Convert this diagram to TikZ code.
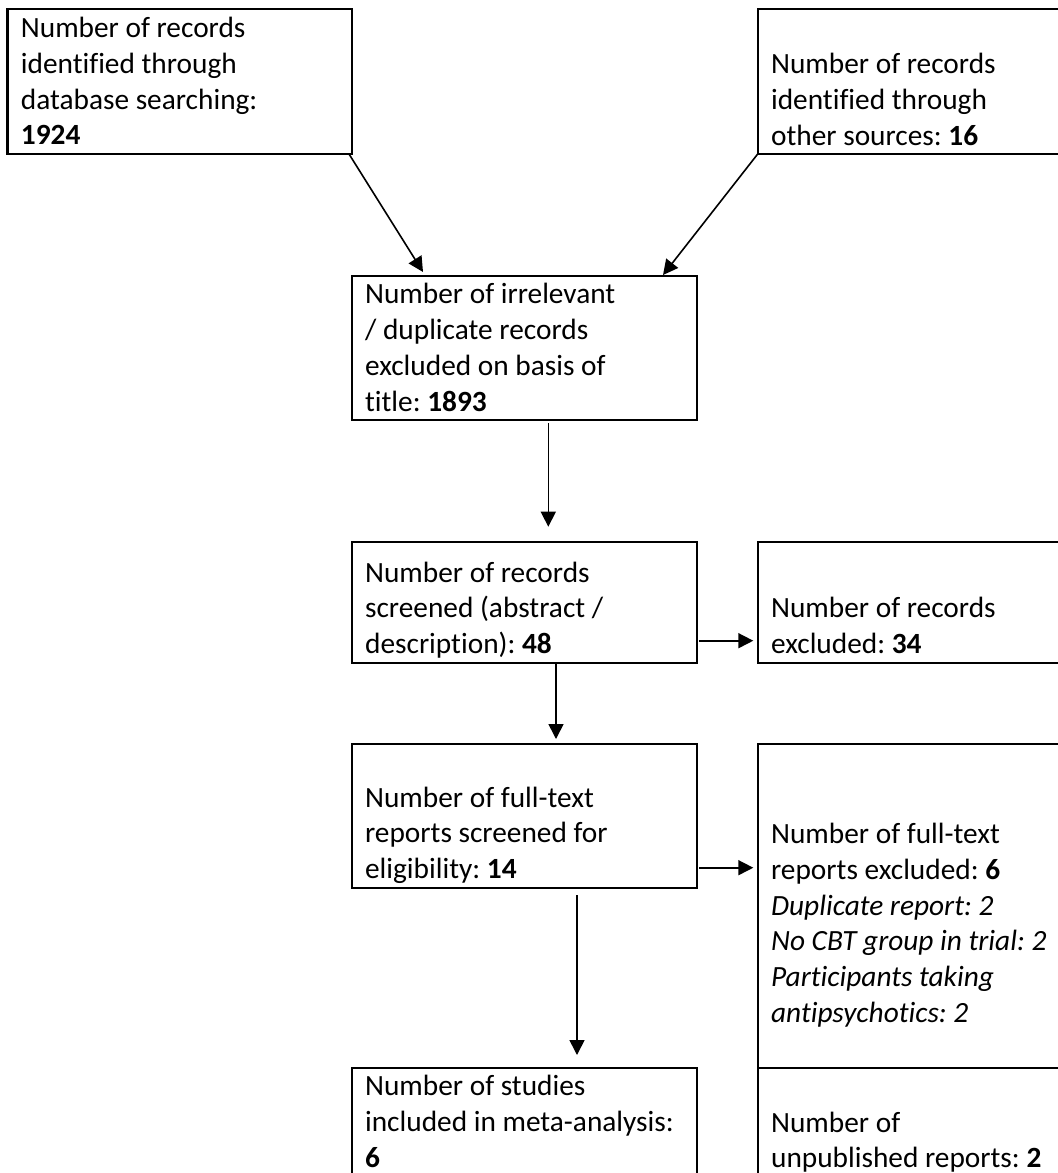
\documentclass[tikz,border=0pt]{standalone}
\usepackage{fontspec}
\setmainfont{Carlito}[Ligatures={NoCommon}]
\frenchspacing
\usetikzlibrary{arrows.meta,calc,fit}
\tikzset{
  box/.style={draw, line width=1.1pt, inner sep=0pt, outer sep=0pt},
  txt/.style={anchor=north west, inner sep=0pt, align=left, font=\fontsize{14.67pt}{17.9pt}\selectfont},
  arr/.style={line width=0.8pt, -{Triangle[length=7.5pt,width=7.5pt]}}
}
\begin{document}
\begin{tikzpicture}[x=0.5pt,y=-0.5pt]
\useasboundingbox (0,0) rectangle (1058,1173);
\clip (0,0) rectangle (1058,1173);

% Drawing box records from databases
\node[box, fit={(7.5,9) (352,154)}] (b1) {};
\node[txt] (t1) at (20.5,12) {\strut Number of records\\identified through\\database searching:\\\textbf{1924}};

% Drawing box records from other sources
\node[box, fit={(757.7,9) (1080,154)}] (b2) {};
\node[txt] (t2) at (770.7,48) {\strut Number of records\\identified through\\other sources: \textbf{16}};

% Drawing box excluded on title
\node[box, fit={(351.7,275.7) (697.3,420)}] (b3) {};
\node[txt] (t3) at (364.7,278.3) {\strut Number of irrelevant\\/ duplicate records\\excluded on basis of\\title: \textbf{1893}};

% Drawing box screened
\node[box, fit={(351.7,542) (697.3,663)}] (b4) {};
\node[txt] (t4) at (364.7,556.7) {\strut Number of records\\screened (abstract /\\description): \textbf{48}};

% Drawing box excluded records
\node[box, fit={(757.7,542) (1080,663)}] (b5) {};
\node[txt] (t5) at (770.7,592) {\strut Number of records\\excluded: \textbf{34}};

% Drawing box full-text screened
\node[box, fit={(351.7,743.7) (697.3,888)}] (b6) {};
\node[txt] (t6) at (364.7,781.7) {\strut Number of full-text\\reports screened for\\eligibility: \textbf{14}};

% Drawing box full-text excluded
\node[box, fit={(757.7,743.7) (1080,1068)}] (b7) {};
\node[txt] (t7) at (770.7,818) {\strut Number of full-text\\reports excluded: \textbf{6}\\\textit{Duplicate report: 2}\\\textit{No CBT group in trial: 2}\\\textit{Participants taking}\\\textit{antipsychotics: 2}};

% Drawing box included studies
\node[box, fit={(351.7,1068.3) (697.3,1195)}] (b8) {};
\node[txt] (t8) at (364.7,1070) {\strut Number of studies\\included in meta-analysis:\\\textbf{6}};

% Drawing box unpublished reports
\node[box, fit={(757.7,1068) (1080,1195)}] (b9) {};
\node[txt] (t9) at (770.7,1106.7) {\strut Number of\\unpublished reports: \textbf{2}};

% Drawing arrows
\draw[arr] ($(b1.south east)+(-3,0)$) -- ($(b3.north west)+(71.3,-3.7)$);
\draw[arr] (b2.south west) -- ($(b3.north west)+(311.3,-0.7)$);
\draw[arr] ($(b3.south west)+(196.6,3)$) -- ($(b4.north west)+(196.6,-15.3)$);
\draw[arr] ($(b4.south east)+(2,-22.3)$) -- ($(b5.south west)+(-4.4,-22.3)$);
\draw[arr] ($(b4.south west)+(204.3,0)$) -- ($(b6.north west)+(204.3,-4.7)$);
\draw[arr] ($(b6.south east)+(2,-20.3)$) -- ($(b7.north west)+(-4.4,124)$);
\draw[arr] ($(b6.south west)+(225.3,7)$) -- ($(b8.north west)+(225.3,-13.3)$);
\end{tikzpicture}
\end{document}
